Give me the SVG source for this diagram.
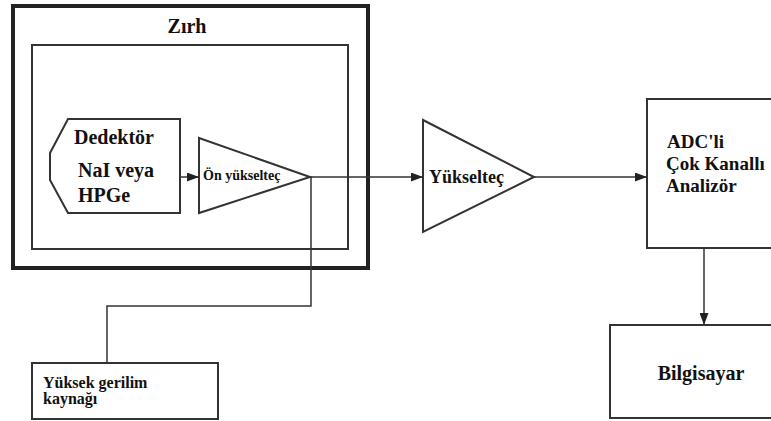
<svg xmlns="http://www.w3.org/2000/svg" width="771" height="421" viewBox="0 0 771 421">
<defs>
<marker id="arr" markerWidth="12" markerHeight="9" refX="12" refY="4.5" orient="auto" markerUnits="userSpaceOnUse">
<path d="M0,0 L12,4.5 L0,9 Z" fill="#222"/>
</marker>
<style>
.box{fill:#fff;stroke:#333;stroke-width:2}
.ln{fill:none;stroke:#333;stroke-width:1.5}
.t{font-family:"Liberation Serif","Times New Roman",Times,serif;font-weight:bold;fill:#111}
</style>
</defs>
<rect width="771" height="421" fill="#fff"/>
<g id="zirh">
<rect x="13" y="6" width="355" height="262" fill="#fff" stroke="#222" stroke-width="4"/>
<text class="t" x="187" y="33" font-size="20" text-anchor="middle">Zırh</text>
</g>
<g id="inner">
<rect class="box" x="32" y="45" width="316" height="204"/>
</g>
<g id="dedektor">
<path class="box" d="M68,119 L180,119 L180,213 L68,213 L50,180 L50,153 Z"/>
<text class="t" x="74" y="144" font-size="20">Dedektör</text>
<text class="t" x="78" y="177" font-size="20">NaI veya</text>
<text class="t" x="78" y="202" font-size="20">HPGe</text>
</g>
<g id="onyukseltec">
<path class="box" d="M199,138 L310,177 L199,213 Z" stroke-width="1.5"/>
<text class="t" x="203" y="180" font-size="14">Ön yükselteç</text>
</g>
<g id="yukseltec">
<path class="box" d="M423,120 L534,177 L423,232 Z" stroke-width="1.5"/>
<text class="t" x="429" y="183" font-size="18">Yükselteç</text>
</g>
<g id="adc">
<rect class="box" x="647" y="99" width="130" height="149"/>
<text class="t" x="667" y="148" font-size="19">ADC'li</text>
<text class="t" x="666" y="170" font-size="19">Çok Kanallı</text>
<text class="t" x="666" y="192" font-size="19">Analizör</text>
</g>
<g id="bilgisayar">
<rect class="box" x="610" y="325" width="170" height="93"/>
<text class="t" x="701" y="380" font-size="20" text-anchor="middle">Bilgisayar</text>
</g>
<g id="hv">
<rect class="box" x="32" y="363" width="186" height="56"/>
<text class="t" x="43" y="388" font-size="16">Yüksek gerilim</text>
<text class="t" x="43" y="404" font-size="16">kaynağı</text>
</g>
<g id="connectors">
<line class="ln" x1="180" y1="177" x2="199" y2="177" marker-end="url(#arr)"/>
<line class="ln" x1="310" y1="177" x2="423" y2="177" marker-end="url(#arr)"/>
<line class="ln" x1="534" y1="177" x2="647" y2="177" marker-end="url(#arr)"/>
<line class="ln" x1="704" y1="248" x2="704" y2="325" marker-end="url(#arr)"/>
<path class="ln" d="M311,177 L311,306 L107,306 L107,363"/>
</g>
</svg>
